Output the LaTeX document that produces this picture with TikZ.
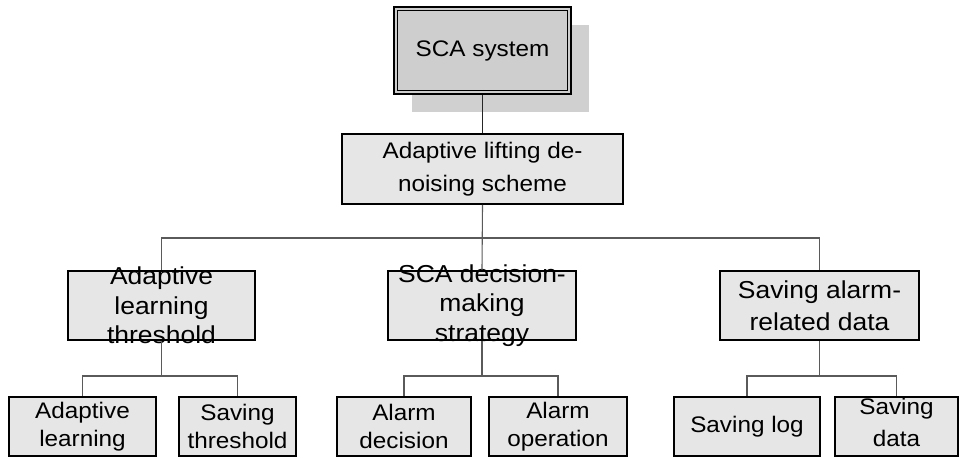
\documentclass[tikz,border=0pt]{standalone}
\usepackage{fontspec}
\setmainfont{Liberation Sans}[FakeStretch=1.08]
\definecolor{shadowgray}{RGB}{208,208,208}
\definecolor{topgray}{RGB}{206,206,206}
\definecolor{boxgray}{RGB}{230,230,230}
\definecolor{linegray}{RGB}{90,90,90}
\tikzset{
  box/.style={draw=black, line width=2pt, fill=boxgray, inner sep=0pt},
  txt/.style={align=center, inner sep=0pt, font=\fontsize{22.5}{29.5}\selectfont},
  txtb/.style={align=center, inner sep=0pt, font=\fontsize{24.5}{29.5}\selectfont},
  conn/.style={draw=linegray, line width=1.1pt},
}
\begin{document}
\begin{tikzpicture}[x=1pt,y=1pt]
\useasboundingbox (0,0) rectangle (959,458);
% top node with shadow
\node[fill=shadowgray, minimum width=177pt, minimum height=87pt, inner sep=0pt] (shadow) at (500.5,389.5) {};
\node[box, fill=topgray, line width=2.6pt, minimum width=177pt, minimum height=87pt] (top) at (482.5,407.5) {};
\draw[line width=1pt] ([shift={(5pt,-5pt)}]top.north west) rectangle ([shift={(-5pt,5pt)}]top.south east);
\node[txt] at (top) {SCA system};
% level 1
\node[box, minimum width=281pt, minimum height=70pt] (b2) at (482.5,289) {};
\node[txt, font=\fontsize{22.5}{33}\selectfont] at (b2) {Adaptive lifting de-\\noising scheme};
% level 2
\node[box, minimum width=187pt, minimum height=69pt] (c1) at (161.5,152.5) {};
\node[box, minimum width=188pt, minimum height=69pt] (c2) at (482,152.5) {};
\node[box, minimum width=199pt, minimum height=69pt] (c3) at (819.5,152.5) {};
\node[txtb] at (c1) {Adaptive\\learning\\threshold};
\node[txtb] at (c2) {SCA decision-\\making\\strategy};
\node[txtb, font=\fontsize{24.5}{32}\selectfont] at (c3) {Saving alarm-\\related data};
% level 3
\node[box, minimum width=147pt, minimum height=59pt] (d1) at (82.5,31.5) {};
\node[box, minimum width=117pt, minimum height=59pt] (d2) at (237.5,31.5) {};
\node[box, minimum width=134pt, minimum height=59pt] (d3) at (404,31.5) {};
\node[box, minimum width=138pt, minimum height=59pt] (d4) at (558,31.5) {};
\node[box, minimum width=146pt, minimum height=59pt] (d5) at (747,31.5) {};
\node[box, minimum width=123pt, minimum height=59pt] (d6) at (896.5,31.5) {};
\node[txt, font=\fontsize{22.5}{28}\selectfont] at (d1) {Adaptive\\learning};
\node[txt, font=\fontsize{22.5}{28}\selectfont] at (d2) {Saving\\threshold};
\node[txt, font=\fontsize{22.5}{28}\selectfont] at (d3) {Alarm\\decision};
\node[txt, font=\fontsize{22.5}{28}\selectfont] at (d4) {Alarm\\operation};
\node[txt] at (d5) {Saving log};
\node[txt, font=\fontsize{22.5}{32}\selectfont] at ([yshift=4pt]d6.center) {Saving\\data};
% connectors
\coordinate (j1) at (482.5,220);
\coordinate (j2) at (161.5,82);
\coordinate (j3) at (482,82);
\coordinate (j4) at (819.5,82);
\draw[line width=1.3pt, draw=black!85] (top.south) -- (b2.north);
\draw[conn] (b2.south) -- (c2.north);
\draw[conn] (c1.north) |- (j1) -| (c3.north);
\draw[conn] (c1.south) -- (j2);
\draw[conn] (d1.north) |- (j2) -| (d2.north);
\draw[conn] (c2.south) -- (j3);
\draw[conn] (d3.north) |- (j3) -| (d4.north);
\draw[conn] (c3.south) -- (j4);
\draw[conn] (d5.north) |- (j4) -| (d6.north);
\end{tikzpicture}
\end{document}
